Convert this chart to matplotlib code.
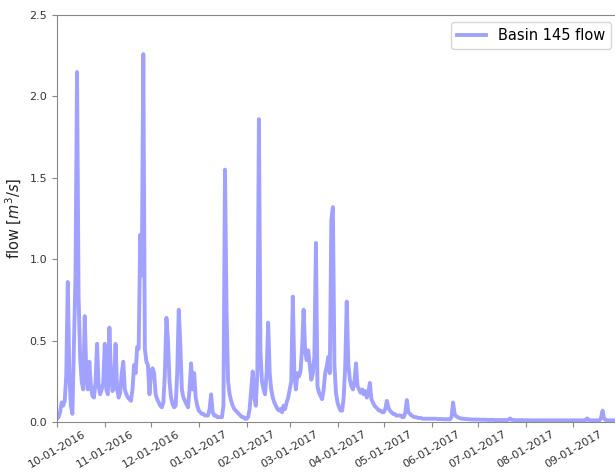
import numpy as np
import pandas as pd
import matplotlib as mpl
mpl.use('Agg')
import matplotlib.pyplot as plt
import matplotlib.dates as mdates

# daily flow, water year 2017 (m^3/s)
oct16 = [0.02, 0.03, 0.06, 0.12, 0.10, 0.13, 0.28, 0.86, 0.30, 0.10,
         0.05, 0.49, 0.90, 2.15, 0.77, 0.40, 0.25, 0.20, 0.65, 0.30,
         0.20, 0.37, 0.22, 0.16, 0.15, 0.25, 0.48, 0.22, 0.17, 0.20, 0.24]
nov16 = [0.48, 0.20, 0.17, 0.58, 0.30, 0.19, 0.22, 0.48, 0.20, 0.15,
         0.18, 0.30, 0.37, 0.20, 0.17, 0.15, 0.14, 0.13, 0.20, 0.35,
         0.30, 0.46, 0.45, 1.15, 0.90, 2.26, 0.45, 0.37, 0.35, 0.17]
dec16 = [0.31, 0.33, 0.30, 0.17, 0.14, 0.12, 0.10, 0.09, 0.12, 0.30,
         0.64, 0.50, 0.25, 0.15, 0.11, 0.09, 0.10, 0.30, 0.69, 0.48,
         0.20, 0.15, 0.13, 0.11, 0.09, 0.20, 0.36, 0.20, 0.30, 0.15, 0.10]
jan17 = [0.07, 0.06, 0.05, 0.05, 0.04, 0.04, 0.04, 0.08, 0.17, 0.06,
         0.04, 0.04, 0.03, 0.03, 0.03, 0.03, 0.10, 1.55, 0.69, 0.25,
         0.17, 0.13, 0.10, 0.08, 0.07, 0.06, 0.05, 0.04, 0.03, 0.03, 0.02]
feb17 = [0.02, 0.03, 0.08, 0.20, 0.31, 0.15, 0.10, 0.30, 1.86, 0.43,
         0.25, 0.20, 0.17, 0.30, 0.61, 0.30, 0.20, 0.15, 0.12, 0.10,
         0.08, 0.07, 0.08, 0.06, 0.10, 0.08, 0.12, 0.15]
mar17 = [0.20, 0.25, 0.77, 0.30, 0.20, 0.30, 0.28, 0.31, 0.45, 0.69,
         0.44, 0.38, 0.44, 0.35, 0.26, 0.30, 0.40, 1.10, 0.22, 0.18,
         0.16, 0.14, 0.20, 0.30, 0.34, 0.40, 0.30, 1.24, 1.32, 0.35, 0.18]
apr17 = [0.12, 0.09, 0.07, 0.07, 0.15, 0.34, 0.74, 0.36, 0.26, 0.22,
         0.20, 0.25, 0.36, 0.22, 0.20, 0.18, 0.20, 0.17, 0.19, 0.15,
         0.18, 0.24, 0.14, 0.12, 0.10, 0.09, 0.08, 0.07, 0.07, 0.06]
may17 = [0.06, 0.08, 0.13, 0.09, 0.07, 0.06, 0.05, 0.05, 0.04, 0.04,
         0.04, 0.04, 0.03, 0.03, 0.06, 0.135, 0.06, 0.05, 0.04, 0.035,
         0.03, 0.03, 0.025, 0.025, 0.025, 0.02, 0.02, 0.02, 0.02, 0.02, 0.02]
jun17 = [0.02, 0.02, 0.02, 0.02, 0.018, 0.018, 0.018, 0.018, 0.017, 0.017,
         0.017, 0.017, 0.016, 0.03, 0.12, 0.05, 0.035, 0.03, 0.025, 0.022,
         0.02, 0.02, 0.018, 0.018, 0.017, 0.016, 0.016, 0.015, 0.015, 0.015]
jul17 = [0.015, 0.015, 0.014, 0.014, 0.014, 0.014, 0.013, 0.013, 0.013, 0.013,
         0.013, 0.012, 0.012, 0.012, 0.012, 0.012, 0.012, 0.012, 0.012, 0.012,
         0.014, 0.022, 0.014, 0.012, 0.012, 0.011, 0.011, 0.011, 0.011, 0.011, 0.011]
aug17 = [0.011, 0.011, 0.011, 0.010, 0.010, 0.010, 0.010, 0.010, 0.010, 0.010,
         0.010, 0.010, 0.010, 0.010, 0.010, 0.010, 0.010, 0.010, 0.010, 0.010,
         0.010, 0.010, 0.010, 0.010, 0.010, 0.010, 0.010, 0.010, 0.010, 0.010, 0.010]
sep17 = [0.010, 0.010, 0.010, 0.010, 0.010, 0.010, 0.010, 0.010, 0.012, 0.022,
         0.012, 0.010, 0.010, 0.010, 0.010, 0.010, 0.010, 0.010, 0.025, 0.07,
         0.02, 0.012, 0.010, 0.010, 0.010, 0.010, 0.010, 0.010, 0.010, 0.010]

start_date = '2016-10-01'
end_date = '2017-09-30'
label = 'Basin 145 flow'


def main():
    flow = oct16 + nov16 + dec16 + jan17 + feb17 + mar17 + apr17 + may17 \
        + jun17 + jul17 + aug17 + sep17
    dates = pd.date_range(start_date, end_date, freq='D')
    s = pd.Series(flow, index=dates)

    fig = plt.figure(figsize=(6.15, 4.75), dpi=100)
    ax = fig.add_axes([57/615, 53/475, 561/615, 407/475])

    ax.plot(s.index, s.values, color='blue', alpha=0.37, lw=2.8, label=label)

    ax.set_xlim(dates[0], dates[-1])
    ax.set_ylim(0, 2.5)
    ax.xaxis.set_major_locator(mdates.MonthLocator())
    ax.xaxis.set_major_formatter(mdates.DateFormatter('%m-%d-%Y'))
    plt.setp(ax.get_xticklabels(), rotation=30, ha='center')

    ax.set_ylabel('flow [$m^3/s$]', fontsize=10.5, color='#222222')
    for loc in ['left', 'right', 'top', 'bottom']:
        ax.spines[loc].set_color('#888888')
    ax.tick_params(colors='#888888', labelcolor='#333333', labelsize=8,
                   length=3.5)
    ax.tick_params(axis='x', pad=1.5)

    ax.legend(loc='upper right', fontsize=10.5, framealpha=0.8)

    plt.savefig('out.png', dpi=100)
    plt.close()


if __name__ == '__main__':
    main()
